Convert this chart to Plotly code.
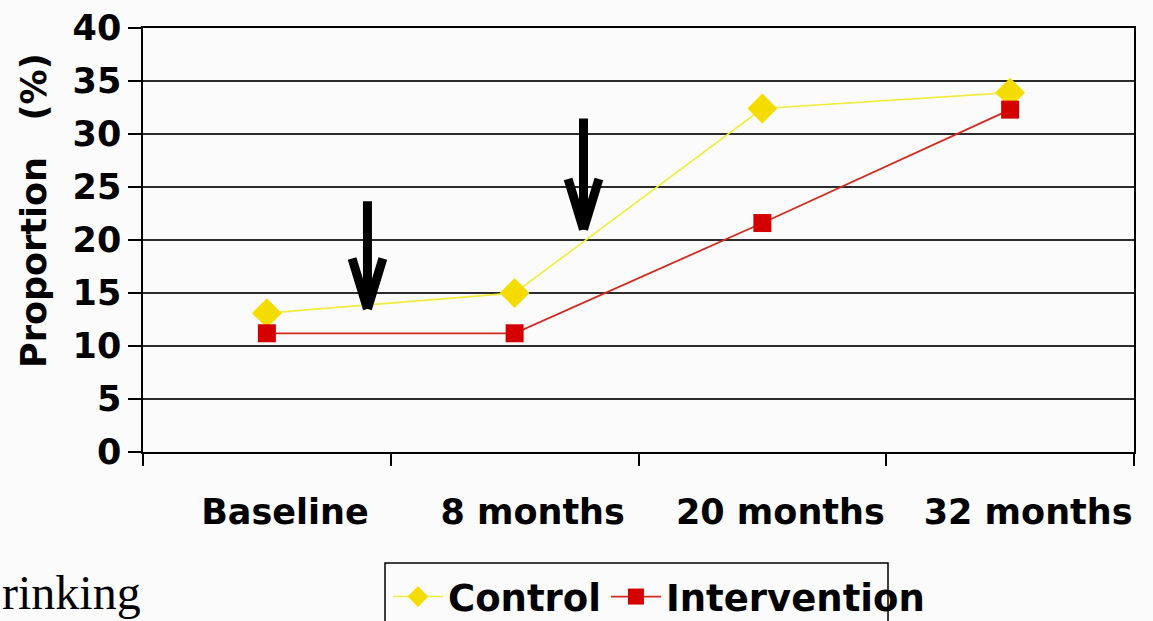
import plotly.graph_objects as go

# Survey waves and the proportion (%) in each arm
periods = ["Baseline", "8 months", "20 months", "32 months"]
control = [13.1, 15.0, 32.4, 33.9]
intervention = [11.2, 11.2, 21.6, 32.3]
y_ticks = [0, 5, 10, 15, 20, 25, 30, 35, 40]

W, H = 1153, 621
L, R, T, B = 143, 19, 28, 169
FONT = "DejaVu Sans"


def px_to_paper(px, py):
    """Convert a pixel position on the page to paper coordinates."""
    return (px - L) / (W - L - R), (H - B - py) / (H - T - B)


fig = go.Figure()

fig.add_trace(go.Scatter(
    x=periods, y=control, name="Control", mode="lines+markers",
    line=dict(color="#f2ec3a", width=1.6),
    marker=dict(symbol="diamond", size=23, color="#f4dc00"),
))
fig.add_trace(go.Scatter(
    x=periods, y=intervention, name="Intervention", mode="lines+markers",
    line=dict(color="#d22a1e", width=1.8),
    marker=dict(symbol="square", size=18, color="#d40000"),
))

# Downward arrows marking the intervention points (category index, value)
arrows = [
    dict(x=0.406, top=23.8, tip=13.5, half=0.064, barb=18.4),
    dict(x=1.278, top=31.6, tip=21.0, half=0.064, barb=25.9),
]
for a in arrows:
    segs = [
        (a["x"], a["top"], a["x"], a["tip"]),
        (a["x"] - a["half"], a["barb"], a["x"], a["tip"]),
        (a["x"] + a["half"], a["barb"], a["x"], a["tip"]),
    ]
    for x0, y0, x1, y1 in segs:
        fig.add_annotation(
            x=x1, y=y1, ax=x0, ay=y0, xref="x", yref="y", axref="x", ayref="y",
            text="", showarrow=True, arrowhead=0, arrowwidth=9, arrowcolor="#000000",
        )

# Rotated axis title
tx, ty = px_to_paper(34, 211)
fig.add_annotation(
    x=tx, y=ty, xref="paper", yref="paper", textangle=-90,
    text="Proportion\u00a0\u00a0\u00a0(%)", showarrow=False,
    font=dict(family=FONT, size=35, color="#000000", weight="bold"),
    xanchor="center", yanchor="middle",
)

# Fragment of surrounding page text at the lower left
rx, ry = px_to_paper(0, 621)
fig.add_annotation(
    x=rx, y=ry, xref="paper", yref="paper", text="rinking", showarrow=False,
    font=dict(family="Liberation Serif", size=48, color="#000000", weight="normal"),
    xanchor="left", yanchor="bottom",
)

# Legend frame
bx0, by0 = px_to_paper(385, 563)
bx1, by1 = px_to_paper(888, 640)
fig.add_shape(
    type="rect", xref="paper", yref="paper", x0=bx0, y0=by0, x1=bx1, y1=by1,
    line=dict(color="#000000", width=1.5), fillcolor="rgba(0,0,0,0)", layer="above",
)

lx, ly = px_to_paper(388, 566)
fig.update_layout(
    width=W, height=H,
    margin=dict(l=L, r=R, t=T, b=B, pad=0, autoexpand=False),
    paper_bgcolor="#fbfbfb", plot_bgcolor="#fbfbfb",
    font=dict(family=FONT, size=35, color="#000000", weight="bold"),
    showlegend=True,
    legend=dict(
        orientation="h", x=lx, y=ly, xanchor="left", yanchor="top",
        bgcolor="rgba(0,0,0,0)", borderwidth=0,
        font=dict(family=FONT, size=37, color="#000000", weight="bold"),
        itemwidth=50,
    ),
    xaxis=dict(
        type="category", range=[-0.5, 3.5], tickson="boundaries",
        ticks="outside", ticklen=12, tickwidth=1.5, tickcolor="#000000",
        showline=True, linecolor="#000000", linewidth=1.5, mirror=True,
        showgrid=False, zeroline=False, ticklabelshift=18, ticklabelstandoff=28,
        automargin=False,
        tickfont=dict(family=FONT, size=35, color="#000000", weight="bold"),
    ),
    yaxis=dict(
        range=[0, 40], tickvals=y_ticks,
        ticks="outside", ticklen=13, tickwidth=1.5, tickcolor="#000000",
        showline=True, linecolor="#000000", linewidth=1.5, mirror=True,
        showgrid=True, gridcolor="#2b2b2b", gridwidth=1.6, zeroline=False,
        automargin=False,
        tickfont=dict(family=FONT, size=35, color="#000000", weight="bold"),
    ),
)

fig.write_html("out.html")
